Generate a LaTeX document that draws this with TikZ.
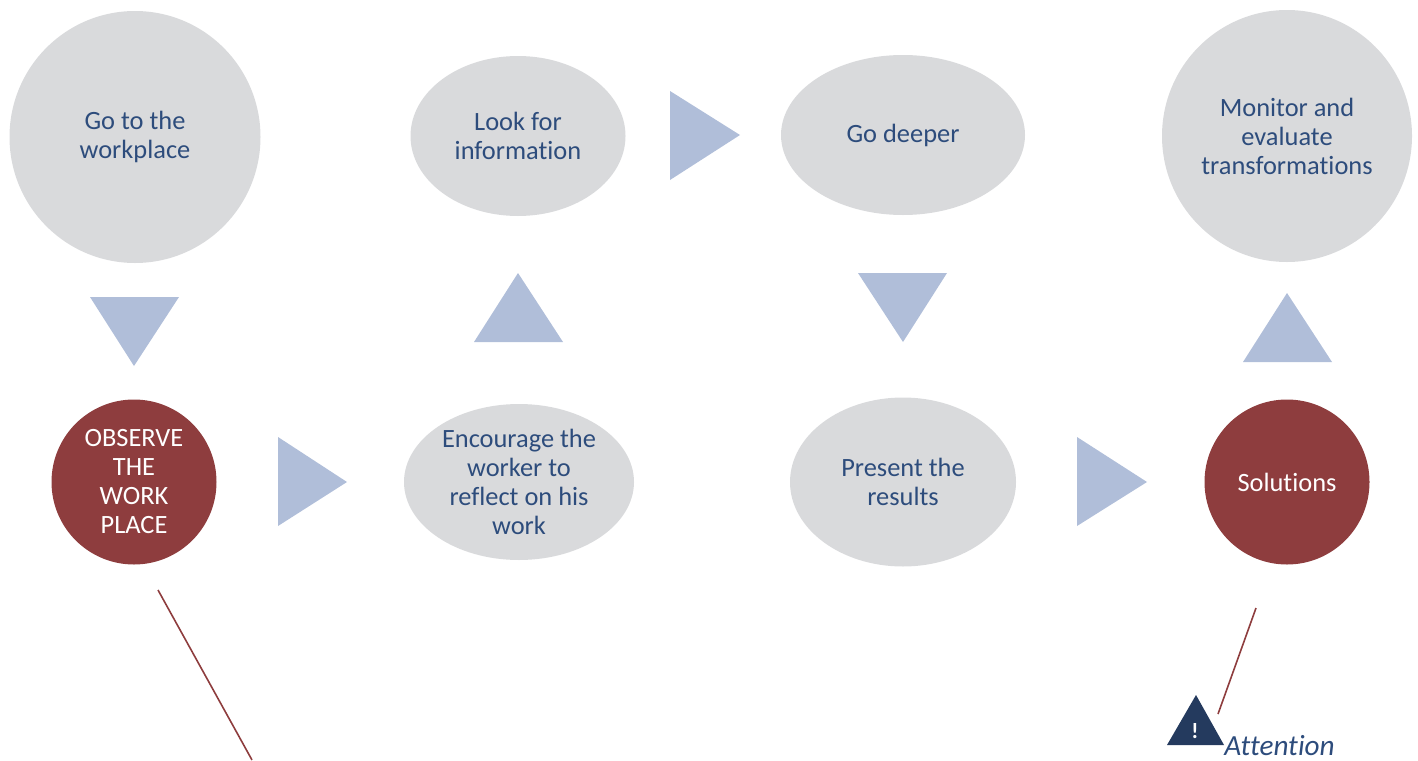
\documentclass[tikz,border=0pt]{standalone}
\usepackage{fontspec}
\setmainfont[Ligatures=NoCommon]{Carlito}
\usetikzlibrary{shapes.geometric}
\definecolor{bubblegray}{HTML}{D9DADC}
\definecolor{bubblered}{HTML}{8E3D3E}
\definecolor{txtblue}{HTML}{2D4C7C}
\definecolor{arrowblue}{HTML}{B0BED9}
\definecolor{iconblue}{HTML}{243A5E}
\begin{document}
\begin{tikzpicture}[x=0.5pt,y=-0.5pt,
  bubble/.style={ellipse,fill=bubblegray,inner sep=0pt,text=txtblue,align=center,font=\fontsize{13.2}{14.5}\selectfont},
  redbubble/.style={circle,fill=bubblered,inner sep=0pt,text=white,align=center,font=\fontsize{13.2}{14.5}\selectfont},
  arrowtri/.style={fill=arrowblue},
  leader/.style={draw=bubblered,line width=0.8pt}]
\useasboundingbox (0,0) rectangle (1418,760);
% bubbles (sizes in px, 1px = 0.5pt)
\node[bubble,minimum width=125.5pt,minimum height=126pt] (goto) at (135,137) {Go to the\\workplace};
\node[bubble,minimum width=107.5pt,minimum height=80pt] (look) at (518,136) {Look for\\information};
\node[bubble,minimum width=122pt,minimum height=80pt] (deeper) at (903,135) {Go deeper};
\node[bubble,minimum width=125pt,minimum height=126pt] (monitor) at (1287,136) {Monitor and\\evaluate\\transformations};
\node[redbubble,minimum size=82.5pt] (observe) at (134,482) {OBSERVE\\THE\\WORK\\PLACE};
\node[bubble,minimum width=115pt,minimum height=78pt] (encourage) at (519,482) {Encourage the\\worker to\\reflect on his\\work};
\node[bubble,minimum width=113pt,minimum height=84.5pt] (present) at (903,482) {Present the\\results};
\node[redbubble,minimum size=82.5pt] (solutions) at (1287,482) {Solutions};
% arrow triangles
\fill[arrowtri] (670,91) -- (670,180) -- (740,135) -- cycle;
\fill[arrowtri] (90,297) -- (179,297) -- (134,366) -- cycle;
\fill[arrowtri] (474,342) -- (563,342) -- (518,273) -- cycle;
\fill[arrowtri] (858,273) -- (947,273) -- (903,342) -- cycle;
\fill[arrowtri] (1243,362) -- (1332,362) -- (1287,293) -- cycle;
\fill[arrowtri] (278,437) -- (278,526) -- (347,482) -- cycle;
\fill[arrowtri] (1077,437) -- (1077,526) -- (1147,482) -- cycle;
% leader lines
\coordinate (obsfoot) at (158,590);
\coordinate (obsend) at (252,760);
\draw[leader] (obsfoot) -- (obsend);
\coordinate (solfoot) at (1256,608);
\coordinate (solend) at (1218,714);
\draw[leader] (solfoot) -- (solend);
% attention icon
\fill[iconblue] (1167,745) -- (1224,745) -- (1196,695) -- cycle;
\node[text=white,font=\bfseries\fontsize{11}{11}\selectfont,inner sep=0pt] (bang) at (1195,731) {!};
\node[anchor=base west,inner sep=0pt,text=txtblue,font=\itshape\fontsize{14.6}{15}\selectfont] (attn) at (1224,755) {Attention};
\end{tikzpicture}
\end{document}
